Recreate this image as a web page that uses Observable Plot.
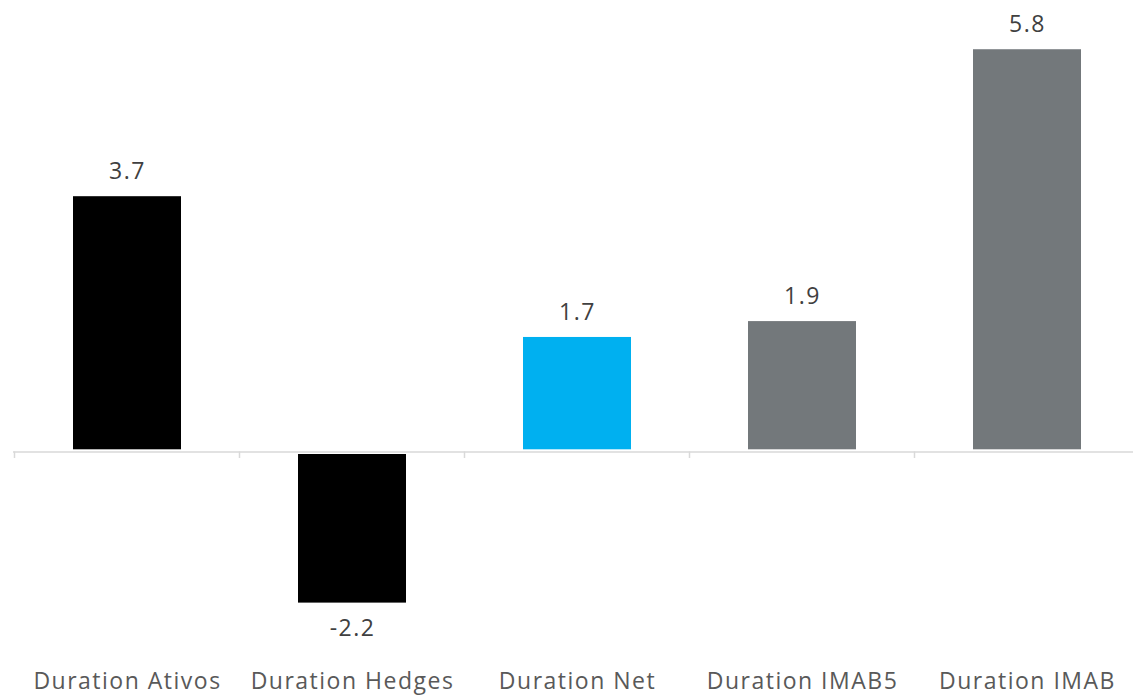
<!DOCTYPE html>
<html>
<head>
<meta charset="utf-8">
<script src="https://cdn.jsdelivr.net/npm/d3@7"></script>
<script src="https://cdn.jsdelivr.net/npm/@observablehq/plot@0.6"></script>
<style>
  html, body { margin: 0; padding: 0; background: #ffffff; overflow: hidden; }
  #chart svg { display: block; }
  #chart text { letter-spacing: 1.5px; }
</style>
</head>
<body>
<div id="chart"></div>
<script>
const categories = ["Duration Ativos", "Duration Hedges", "Duration Net", "Duration IMAB5", "Duration IMAB"];
const values = [3.70, -2.19, 1.66, 1.89, 5.83];
const barColors = ["#000000", "#000000", "#00B0F0", "#73787B", "#73787B"];

const data = categories.map((c, i) => ({cat: c, value: values[i], color: barColors[i]}));
const pos = data.filter(d => d.value >= 0);
const neg = data.filter(d => d.value < 0);
const fmt = v => v.toFixed(1);

const chart = Plot.plot({
  width: 1133,
  height: 700,
  marginLeft: 13,
  marginRight: -8,
  marginTop: 37.5,
  marginBottom: 41.5,
  style: {fontFamily: "'Open Sans', sans-serif", fontSize: "23px", background: "#ffffff"},
  x: {domain: categories, paddingInner: 0.52, paddingOuter: 0.26, label: null},
  y: {domain: [-3, 6], axis: null},
  marks: [
    Plot.barY(pos, {x: "cat", y: "value", fill: "color", insetBottom: 2.2}),
    Plot.barY(neg, {x: "cat", y: "value", fill: "color", insetTop: 2.5}),
    Plot.ruleY([0], {stroke: "#d9d9d9", strokeWidth: 1.7}),
    Plot.text(pos, {x: "cat", y: "value", text: d => fmt(d.value), dy: -25, fill: "#404040", fontSize: 23}),
    Plot.text(neg, {x: "cat", y: "value", text: d => fmt(d.value), dy: 26, fill: "#404040", fontSize: 23}),
    Plot.axisX({tickSize: 0, tickPadding: 13.2, color: "#595959", fontSize: 23, label: null})
  ]
});
document.getElementById("chart").appendChild(chart);

// category boundary tick marks on the zero line, positioned from the chart's own scales
const xs = chart.scale("x");
const ys = chart.scale("y");
const y0 = ys.apply(0);
const start = xs.apply(categories[0]) - (xs.step - xs.bandwidth) / 2;
const svg = d3.select(chart);
for (let i = 0; i <= categories.length; i++) {
  const bx = start + i * xs.step;
  svg.append("line")
    .attr("x1", bx).attr("x2", bx)
    .attr("y1", y0).attr("y2", y0 + 6.5)
    .attr("stroke", "#d9d9d9").attr("stroke-width", 1.5);
}
</script>
</body>
</html>
